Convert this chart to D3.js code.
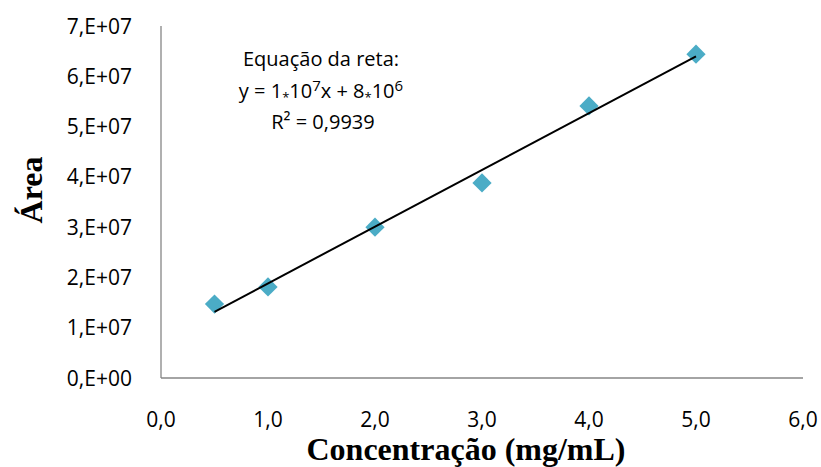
<!DOCTYPE html>
<html>
<head>
<meta charset="utf-8">
<script src="https://cdn.jsdelivr.net/npm/d3@7"></script>
<style>
  body { margin: 0; background: #fff; }
  .tick-lbl { font-family: "Open Sans", sans-serif; font-size: 21px; fill: #000; }
  .ttl { font-family: "Liberation Serif", "Times New Roman", serif; font-weight: bold; font-size: 32px; fill: #000; }
  .eq { font-family: "Open Sans", sans-serif; font-size: 20px; fill: #000; }
</style>
</head>
<body>
<div id="main"></div>
<script>
/// data ///
const concentracao = [0.5, 1, 2, 3, 4, 5];
const area = [1.47e7, 1.81e7, 3.0e7, 3.88e7, 5.41e7, 6.44e7];
const xTicks = [0, 1, 2, 3, 4, 5, 6];
const yTicks = [0, 1e7, 2e7, 3e7, 4e7, 5e7, 6e7, 7e7];
const yTickLabels = ['0,E+00', '1,E+07', '2,E+07', '3,E+07', '4,E+07', '5,E+07', '6,E+07', '7,E+07'];

const w = 821, h = 467;

let svg = d3.select('#main')
    .append('svg')
    .attr('width', w)
    .attr('height', h);

// scales //
let xScale = d3.scaleLinear().domain([0, 6]).range([161, 803]);
let yScale = d3.scaleLinear().domain([0, 7e7]).range([378, 26]);

// axis lines (no ticks in original)
svg.append('line')
    .attr('x1', xScale(0)).attr('x2', xScale(0))
    .attr('y1', yScale(0)).attr('y2', yScale(7e7))
    .attr('stroke', '#868686').attr('stroke-width', 1.3);
svg.append('line')
    .attr('x1', xScale(0)).attr('x2', xScale(6))
    .attr('y1', yScale(0)).attr('y2', yScale(0))
    .attr('stroke', '#868686').attr('stroke-width', 1.3);

// tick labels
svg.selectAll('.ylbl')
    .data(yTicks)
    .enter()
    .append('text')
    .attr('class', 'tick-lbl')
    .attr('x', 132)
    .attr('y', d => yScale(d))
    .attr('dy', '0.36em')
    .style('text-anchor', 'end')
    .text((d, i) => yTickLabels[i]);

svg.selectAll('.xlbl')
    .data(xTicks)
    .enter()
    .append('text')
    .attr('class', 'tick-lbl')
    .attr('x', d => xScale(d))
    .attr('y', 427)
    .style('text-anchor', 'middle')
    .text(d => d3.format('.1f')(d).replace('.', ','));

// axis titles
svg.append('text')
    .attr('class', 'ttl')
    .attr('x', 466)
    .attr('y', 460)
    .style('text-anchor', 'middle')
    .text('Concentração (mg/mL)');

svg.append('text')
    .attr('class', 'ttl')
    .attr('transform', 'translate(42,190) rotate(-90)')
    .style('text-anchor', 'middle')
    .text('Área');

// linear trendline from least squares
let mx = d3.mean(concentracao), my = d3.mean(area);
let sxy = d3.sum(concentracao, (x, i) => (x - mx) * (area[i] - my));
let sxx = d3.sum(concentracao, x => (x - mx) * (x - mx));
let slope = sxy / sxx, icpt = my - slope * mx;
let xmin = d3.min(concentracao), xmax = d3.max(concentracao);

// points
svg.selectAll('path.pt')
    .data(concentracao)
    .enter()
    .append('path')
    .attr('class', 'pt')
    .attr('d', d3.symbol(d3.symbolSquare, 185))
    .attr('transform', (d, i) => `translate(${xScale(d)},${yScale(area[i])}) rotate(45)`)
    .attr('fill', '#4BACC6');

svg.append('line')
    .attr('x1', xScale(xmin)).attr('y1', yScale(slope * xmin + icpt))
    .attr('x2', xScale(xmax)).attr('y2', yScale(slope * xmax + icpt))
    .attr('stroke', '#000').attr('stroke-width', 2);

// equation label
let eq = svg.append('text').attr('class', 'eq').style('text-anchor', 'middle');
eq.append('tspan').attr('x', 321).attr('y', 66).text('Equação da reta:');
let l2 = eq.append('tspan').attr('x', 321).attr('y', 98);
l2.append('tspan').text('y = 1');
l2.append('tspan').style('font-size', '13px').attr('dy', 4).text('*');
l2.append('tspan').attr('dy', -4).text('10');
l2.append('tspan').style('font-size', '15px').attr('dy', -7).text('7');
l2.append('tspan').attr('dy', 7).text('x + 8');
l2.append('tspan').style('font-size', '13px').attr('dy', 4).text('*');
l2.append('tspan').attr('dy', -4).text('10');
l2.append('tspan').style('font-size', '15px').attr('dy', -7).text('6');
eq.append('tspan').attr('x', 323).attr('y', 129).text('R² = 0,9939');
</script>
</body>
</html>
